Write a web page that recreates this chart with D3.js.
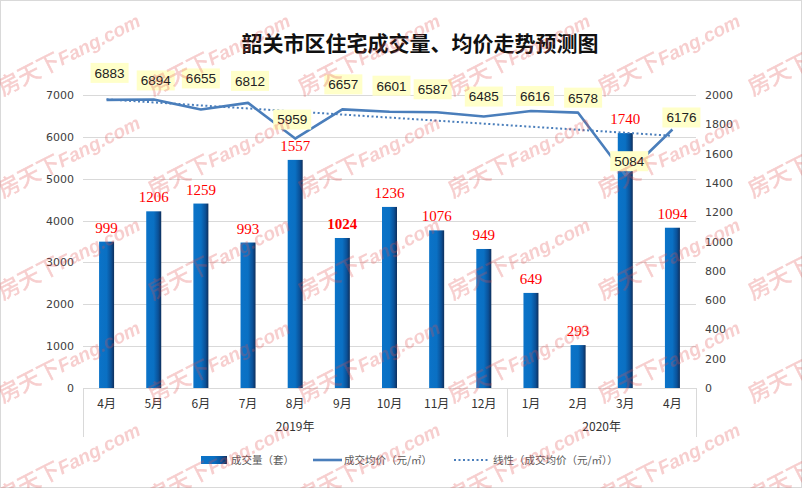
<!DOCTYPE html>
<html><head><meta charset="utf-8">
<script src="https://cdn.jsdelivr.net/npm/d3@7/dist/d3.min.js"></script>
<style>body{margin:0;background:#fff}svg{display:block}</style>
</head><body><svg id="c" width="802" height="488"></svg>
<script>
// ---- data ----
const months = ['4月','5月','6月','7月','8月','9月','10月','11月','12月','1月','2月','3月','4月'];
const monthYear = ['2019年','2019年','2019年','2019年','2019年','2019年','2019年','2019年','2019年','2020年','2020年','2020年','2020年'];
const volume = [999,1206,1259,993,1557,1024,1236,1076,949,649,293,1740,1094];
const price = [6883,6894,6655,6812,5959,6657,6601,6587,6485,6616,6578,5084,6176];
const leftTicks = [0,1000,2000,3000,4000,5000,6000,7000];
const rightTicks = [0,200,400,600,800,1000,1200,1400,1600,1800,2000];
const title = '韶关市区住宅成交量、均价走势预测图';
const legendLabels = ['成交量（套）','成交均价（元/㎡）','线性（成交均价（元/㎡））'];

// ---- layout / style ----
const W = 802, H = 488;
const plot = {left: 83, right: 696, top: 95, bottom: 388};
const boldVolume = [5];
const priceLabelOffset = [[3,-27],[2,-19],[0,-31],[2,-22],[-3,-19],[1,-25],[2,-26],[-4,-23],[0,-20],[4,-15],[5,-15],[4,-14],[9,-12]];
const lineColor = '#4a7ebb';

const svg = d3.select('#c');
svg.append('rect').attr('x',0.5).attr('y',0.5).attr('width',W-1).attr('height',H-1)
  .attr('fill','#fff').attr('stroke','#d9d9d9');

const defs = svg.append('defs');
const grad = defs.append('linearGradient').attr('id','barG').attr('x1',0).attr('x2',1).attr('y1',0).attr('y2',0);
[[0,'#0b73c8'],[0.5,'#0a70c3'],[0.8,'#0b5198'],[1,'#0e2f5c']].forEach(([o,c])=>grad.append('stop').attr('offset',o).attr('stop-color',c));

const idx = months.map((m,i)=>i);
const x = d3.scaleBand().domain(idx).range([plot.left, plot.right]).padding(0);
const yL = d3.scaleLinear().domain([0,7000]).range([plot.bottom, plot.top]);
const yR = d3.scaleLinear().domain([0,2000]).range([plot.bottom, plot.top]);
const cx = i => x(i) + x.bandwidth()/2;

// gridlines
svg.append('g').selectAll('line').data(leftTicks.filter(t=>t>0)).join('line')
  .attr('x1',plot.left).attr('x2',plot.right)
  .attr('y1',d=>Math.round(yL(d))+0.5).attr('y2',d=>Math.round(yL(d))+0.5)
  .attr('stroke','#d9d9d9').attr('stroke-width',1);

// axes
const axL = svg.append('g').attr('transform',`translate(${plot.left-9},0)`)
  .call(d3.axisLeft(yL).tickValues(leftTicks).tickFormat(d3.format('d')).tickSize(0).tickPadding(0));
const axR = svg.append('g').attr('transform',`translate(${plot.right+9},0)`)
  .call(d3.axisRight(yR).tickValues(rightTicks).tickFormat(d3.format('d')).tickSize(0).tickPadding(0));
[axL,axR].forEach(a=>{
  a.select('.domain').remove();
  a.selectAll('text').attr('font-family','DejaVu Sans, Verdana, sans-serif').attr('font-size',11).attr('fill','#404040');
});

// category axis (multi-level)
const axB = svg.append('g').attr('transform',`translate(0,${plot.bottom})`)
  .call(d3.axisBottom(x).tickFormat(i=>months[i]).tickSize(0).tickPadding(11));
axB.select('.domain').remove();
axB.selectAll('text').attr('font-family','Noto Sans CJK SC, sans-serif').attr('font-size',12).attr('fill','#333');

svg.append('line').attr('x1',plot.left).attr('x2',plot.right).attr('y1',plot.bottom+0.5).attr('y2',plot.bottom+0.5).attr('stroke','#d9d9d9');
const years = Array.from(d3.group(idx, i=>monthYear[i]), ([k,v])=>({label:k, first:v[0], last:v[v.length-1]}));
const sepX = [x(0)].concat(years.map(g=>x(g.last)+x.bandwidth()));
svg.append('g').selectAll('line').data(sepX).join('line')
  .attr('x1',d=>Math.round(d)+0.5).attr('x2',d=>Math.round(d)+0.5)
  .attr('y1',plot.bottom).attr('y2',plot.bottom+49)
  .attr('stroke','#d9d9d9');
svg.append('g').selectAll('text').data(years).join('text')
  .attr('x',g=>(x(g.first)+x(g.last)+x.bandwidth())/2).attr('y',plot.bottom+43)
  .attr('text-anchor','middle').attr('font-family','Noto Sans CJK SC, sans-serif').attr('font-size',12).attr('fill','#333')
  .text(g=>g.label);

// bars
const bw = 15;
svg.append('g').selectAll('rect').data(volume).join('rect')
  .attr('x',(d,i)=>cx(i)-bw/2).attr('width',bw)
  .attr('y',d=>yR(d)).attr('height',d=>yR(0)-yR(d))
  .attr('fill','url(#barG)');

// volume labels
svg.append('g').selectAll('text').data(volume).join('text')
  .attr('x',(d,i)=>cx(i)).attr('y',d=>yR(d)-9)
  .attr('text-anchor','middle').attr('font-family','Liberation Serif, Times New Roman, serif')
  .attr('font-size',15).attr('fill','#ff0000')
  .attr('font-weight',(d,i)=>boldVolume.includes(i)?'bold':'normal')
  .text(d=>d);

// trend line (linear regression of price)
const n = price.length;
const mx = d3.mean(idx), my = d3.mean(price);
const slope = d3.sum(idx,i=>(i-mx)*(price[i]-my))/d3.sum(idx,i=>(i-mx)*(i-mx));
const icpt = my - slope*mx;
svg.append('line')
  .attr('x1',cx(0)).attr('y1',yL(icpt))
  .attr('x2',cx(n-1)).attr('y2',yL(icpt+slope*(n-1)))
  .attr('stroke',lineColor).attr('stroke-width',2).attr('stroke-dasharray','2 2.5');

// price line
svg.append('path').datum(price)
  .attr('d',d3.line().x((d,i)=>cx(i)).y(d=>yL(d)))
  .attr('fill','none').attr('stroke',lineColor).attr('stroke-width',2.6).attr('stroke-linejoin','round');

// price labels
const pl = svg.append('g').selectAll('g').data(price).join('g')
  .attr('transform',(d,i)=>`translate(${cx(i)+priceLabelOffset[i][0]},${yL(d)+priceLabelOffset[i][1]})`);
pl.append('rect').attr('x',-19).attr('y',-10).attr('width',38).attr('height',20).attr('fill','#ffffc9');
pl.append('text').attr('text-anchor','middle').attr('dy','0.36em')
  .attr('font-family','Liberation Sans, Arial, sans-serif').attr('font-size',13.5).attr('fill','#222')
  .text(d=>d);

// title
svg.append('text').attr('x',420).attr('y',51).attr('text-anchor','middle')
  .attr('font-family','Noto Sans CJK SC, sans-serif').attr('font-weight','bold').attr('font-size',21).attr('fill','#111')
  .text(title);

// legend
const lg = svg.append('g').attr('font-family','Noto Sans CJK SC, sans-serif').attr('font-size',10.5).attr('fill','#595959');
lg.append('rect').attr('x',201).attr('y',456).attr('width',26).attr('height',8).attr('fill','url(#barG)');
lg.append('text').attr('x',231).attr('y',460).attr('dy','0.35em').text(legendLabels[0]);
lg.append('line').attr('x1',313).attr('x2',342).attr('y1',460).attr('y2',460).attr('stroke',lineColor).attr('stroke-width',2.6);
lg.append('text').attr('x',344).attr('y',460).attr('dy','0.35em').text(legendLabels[1]);
lg.append('line').attr('x1',454).attr('x2',488).attr('y1',460).attr('y2',460).attr('stroke',lineColor).attr('stroke-width',2).attr('stroke-dasharray','2 2.5');
lg.append('text').attr('x',493).attr('y',460).attr('dy','0.35em').text(legendLabels[2]);

// watermark
const wmCols = [3,153,303,453,603,753], wmRows = [96,198,300,403,505];
const wm = svg.append('g').attr('pointer-events','none').attr('opacity',0.28);
wmRows.forEach(ry=>wmCols.forEach(cx0=>{
  const t = wm.append('text').attr('transform',`translate(${cx0},${ry}) rotate(-27)`)
    .attr('fill','#e05050');
  t.append('tspan').attr('font-family','Noto Sans CJK SC, sans-serif').attr('font-size',22).attr('font-weight','normal')
    .attr('stroke','#e05050').attr('stroke-width',0.6).text('房天下');
  t.append('tspan').attr('font-family','Liberation Sans, Arial, sans-serif').attr('font-size',19).attr('font-weight','bold').attr('font-style','italic').text('Fang.com');
}));
</script></body></html>
